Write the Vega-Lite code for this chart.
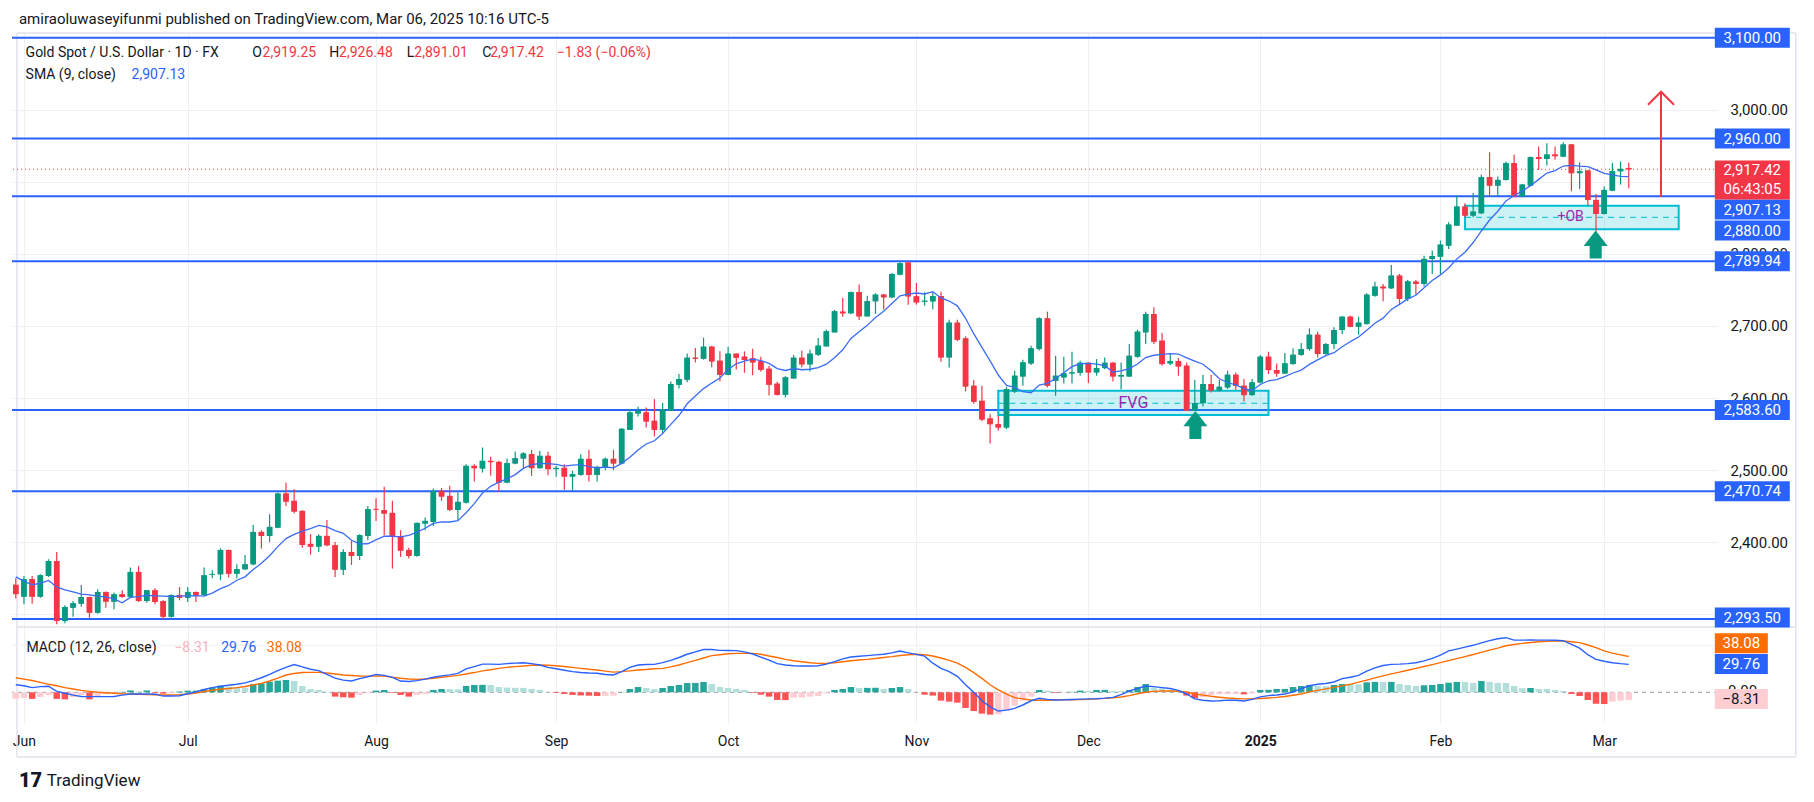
{
"$schema":"https://vega.github.io/schema/vega-lite/v6.json",
"width":1706,"height":690,
"autosize":{"type":"none"},
"padding":{"left":12,"top":33,"right":96,"bottom":79},
"background":"#ffffff",
"config":{"view":{"stroke":null},"font":"Roboto","axis":{"labelFont":"Roboto"}},
"datasets":{
"candles":[
{"i":-1,"o":2341,"h":2350,"l":2322,"c":2328,"s":2352},
{"i":0,"o":2324.5,"h":2353.2,"l":2313.8,"c":2348.6,"s":2346},
{"i":1,"o":2348.6,"h":2353.2,"l":2314.8,"c":2324.5,"s":2341},
{"i":2,"o":2324.5,"h":2355.5,"l":2323,"c":2354.1,"s":2343},
{"i":3,"o":2353.2,"h":2376.4,"l":2351.8,"c":2374,"s":2347},
{"i":4,"o":2374,"h":2386.5,"l":2286.1,"c":2290.7,"s":2338},
{"i":5,"o":2290.7,"h":2312.5,"l":2287.5,"c":2310.1,"s":2334},
{"i":6,"o":2309.2,"h":2318.5,"l":2296.7,"c":2315.2,"s":2331},
{"i":7,"o":2314.8,"h":2340.7,"l":2310.6,"c":2324,"s":2328},
{"i":8,"o":2324,"h":2324.5,"l":2295.3,"c":2302.3,"s":2327.1},
{"i":9,"o":2302.3,"h":2334.7,"l":2300.9,"c":2331,"s":2325.1},
{"i":10,"o":2331,"h":2331.5,"l":2309.2,"c":2317.6,"s":2324.3},
{"i":11,"o":2317.6,"h":2330.1,"l":2306.9,"c":2327.7,"s":2321.4},
{"i":12,"o":2327.7,"h":2333.3,"l":2323.1,"c":2324,"s":2315.9},
{"i":13,"o":2324,"h":2364.8,"l":2323.1,"c":2358.8,"s":2323.4},
{"i":14,"o":2358.8,"h":2367.1,"l":2317.1,"c":2318.5,"s":2324.4},
{"i":15,"o":2318.5,"h":2333.8,"l":2316.2,"c":2333.3,"s":2326.4},
{"i":16,"o":2333.3,"h":2336.1,"l":2313.8,"c":2317.1,"s":2325.7},
{"i":17,"o":2318.5,"h":2319.4,"l":2293,"c":2296.7,"s":2325.1},
{"i":18,"o":2296.7,"h":2327.7,"l":2295.3,"c":2326.8,"s":2324.7},
{"i":19,"o":2326.8,"h":2337.9,"l":2319.4,"c":2323.1,"s":2325.2},
{"i":20,"o":2323.1,"h":2337.9,"l":2317.1,"c":2331,"s":2325.6},
{"i":21,"o":2331,"h":2331.5,"l":2317.1,"c":2326.8,"s":2325.9},
{"i":22,"o":2326.8,"h":2364.8,"l":2325.4,"c":2354.1,"s":2325.3},
{"i":23,"o":2355,"h":2361.1,"l":2350,"c":2356,"s":2329.4},
{"i":24,"o":2355.5,"h":2391.6,"l":2347.2,"c":2389.3,"s":2335.7},
{"i":25,"o":2389.3,"h":2390,"l":2350.9,"c":2356.4,"s":2340},
{"i":26,"o":2356.4,"h":2369.4,"l":2350,"c":2362.5,"s":2347.3},
{"i":27,"o":2362.5,"h":2382.4,"l":2361.5,"c":2369.4,"s":2352},
{"i":28,"o":2369.4,"h":2424,"l":2368,"c":2414.3,"s":2362.1},
{"i":29,"o":2414.3,"h":2416.6,"l":2391.2,"c":2408.8,"s":2370.8},
{"i":30,"o":2408.8,"h":2438.8,"l":2400.4,"c":2421.3,"s":2381.2},
{"i":31,"o":2420.3,"h":2468.9,"l":2419.4,"c":2467.5,"s":2393.9},
{"i":32,"o":2467.5,"h":2482.4,"l":2450.4,"c":2456.4,"s":2405},
{"i":33,"o":2457.4,"h":2473.6,"l":2439.8,"c":2442.6,"s":2411},
{"i":34,"o":2443.5,"h":2444.4,"l":2392.5,"c":2396.3,"s":2415.4},
{"i":35,"o":2397.7,"h":2411.1,"l":2382.8,"c":2394,"s":2418.9},
{"i":36,"o":2394,"h":2411.1,"l":2386.5,"c":2408.8,"s":2423.3},
{"i":37,"o":2408.8,"h":2431,"l":2394.4,"c":2395.8,"s":2421.3},
{"i":38,"o":2395.8,"h":2400.4,"l":2351.8,"c":2362,"s":2416.1},
{"i":39,"o":2362,"h":2390.2,"l":2354.6,"c":2386.5,"s":2412.3},
{"i":40,"o":2386.5,"h":2401.8,"l":2368.5,"c":2381,"s":2402.7},
{"i":41,"o":2381,"h":2411.1,"l":2375.4,"c":2409.7,"s":2397.6},
{"i":42,"o":2408.8,"h":2450.4,"l":2402.7,"c":2445.8,"s":2397.9},
{"i":43,"o":2446.3,"h":2461.1,"l":2429.6,"c":2445.3,"s":2403.3},
{"i":44,"o":2444.4,"h":2476.8,"l":2409.7,"c":2439.8,"s":2408.4},
{"i":45,"o":2440.7,"h":2457.4,"l":2363.4,"c":2407.8,"s":2408.3},
{"i":46,"o":2408.3,"h":2416.6,"l":2379.6,"c":2388.4,"s":2407.4},
{"i":47,"o":2389.3,"h":2392.5,"l":2377.3,"c":2381,"s":2409.6},
{"i":48,"o":2381,"h":2427.5,"l":2380,"c":2426.8,"s":2414},
{"i":49,"o":2425.9,"h":2434.2,"l":2416.6,"c":2429.6,"s":2419.4},
{"i":50,"o":2428.2,"h":2474.5,"l":2422.6,"c":2471.3,"s":2426.2},
{"i":51,"o":2471.3,"h":2475.4,"l":2457.4,"c":2463.4,"s":2428.1},
{"i":52,"o":2464.3,"h":2478.2,"l":2443.5,"c":2444.9,"s":2428.1},
{"i":53,"o":2444.9,"h":2468.9,"l":2431,"c":2456,"s":2429.9},
{"i":54,"o":2455,"h":2508.3,"l":2453.7,"c":2506,"s":2440.8},
{"i":55,"o":2506,"h":2508.3,"l":2484.2,"c":2502.7,"s":2453.6},
{"i":56,"o":2502.3,"h":2531.4,"l":2496.7,"c":2512.9,"s":2468.2},
{"i":57,"o":2512.9,"h":2518.5,"l":2492.1,"c":2511.1,"s":2477.6},
{"i":58,"o":2511.5,"h":2512.9,"l":2470.3,"c":2482.8,"s":2483.4},
{"i":59,"o":2482.9,"h":2516.2,"l":2481.9,"c":2509.7,"s":2487.8},
{"i":60,"o":2509.3,"h":2525.9,"l":2508.3,"c":2516.7,"s":2493.8},
{"i":61,"o":2516.2,"h":2525,"l":2502.8,"c":2523.1,"s":2502.4},
{"i":62,"o":2522.2,"h":2528.2,"l":2492.1,"c":2502.8,"s":2507.7},
{"i":63,"o":2502.8,"h":2526.8,"l":2501.8,"c":2519.9,"s":2509.2},
{"i":64,"o":2519.9,"h":2525.5,"l":2493,"c":2501.4,"s":2509},
{"i":65,"o":2501.4,"h":2506,"l":2490.7,"c":2503.2,"s":2507.9},
{"i":66,"o":2503.2,"h":2508.3,"l":2472.7,"c":2491.2,"s":2505.7},
{"i":67,"o":2491.2,"h":2499.1,"l":2471.3,"c":2494.4,"s":2506.9},
{"i":68,"o":2493.5,"h":2522.2,"l":2492.1,"c":2515.7,"s":2507.6},
{"i":69,"o":2515.7,"h":2528.2,"l":2484.3,"c":2493.5,"s":2505},
{"i":70,"o":2493.5,"h":2506,"l":2484.3,"c":2504.6,"s":2503},
{"i":71,"o":2503.7,"h":2517.6,"l":2500,"c":2515.7,"s":2504.4},
{"i":72,"o":2515.7,"h":2528.2,"l":2500,"c":2509.3,"s":2503.2},
{"i":73,"o":2509.3,"h":2558.3,"l":2508.3,"c":2557.4,"s":2509.4},
{"i":74,"o":2556,"h":2584.7,"l":2556,"c":2580.1,"s":2518},
{"i":75,"o":2578.7,"h":2588,"l":2574.5,"c":2582.4,"s":2528.1},
{"i":76,"o":2580.1,"h":2587,"l":2559.3,"c":2567.6,"s":2536.3},
{"i":77,"o":2568.5,"h":2598.6,"l":2546.8,"c":2556,"s":2540.8},
{"i":78,"o":2556,"h":2593,"l":2551.4,"c":2584.7,"s":2550.9},
{"i":79,"o":2582.4,"h":2623.1,"l":2582.4,"c":2619.4,"s":2563.6},
{"i":80,"o":2618.5,"h":2633.3,"l":2613.4,"c":2626.4,"s":2575.8},
{"i":81,"o":2625.5,"h":2662,"l":2621.8,"c":2656,"s":2592.1},
{"i":82,"o":2656,"h":2669.4,"l":2649.5,"c":2654.6,"s":2603},
{"i":83,"o":2654.6,"h":2683.8,"l":2653.2,"c":2671.3,"s":2613.1},
{"i":84,"o":2671.3,"h":2672.7,"l":2642.6,"c":2650.9,"s":2620.8},
{"i":85,"o":2651.8,"h":2664.8,"l":2623.1,"c":2632.4,"s":2627.9},
{"i":86,"o":2632.4,"h":2671.3,"l":2631.5,"c":2661.6,"s":2639.7},
{"i":87,"o":2661.6,"h":2662,"l":2639.8,"c":2656,"s":2647.6},
{"i":88,"o":2657.4,"h":2664.8,"l":2635.2,"c":2652.8,"s":2651.3},
{"i":89,"o":2655.1,"h":2668.5,"l":2631.5,"c":2649.5,"s":2654},
{"i":90,"o":2650.9,"h":2657.4,"l":2636.6,"c":2639.3,"s":2652.1},
{"i":91,"o":2640.7,"h":2644.4,"l":2603.7,"c":2618.5,"s":2648.1},
{"i":92,"o":2619.9,"h":2622.7,"l":2603.7,"c":2604.6,"s":2640.8},
{"i":93,"o":2604.6,"h":2630.5,"l":2600.9,"c":2628.7,"s":2638.3},
{"i":94,"o":2627.3,"h":2659.7,"l":2627.3,"c":2656,"s":2641},
{"i":95,"o":2656,"h":2665.7,"l":2642.6,"c":2646.8,"s":2639.3},
{"i":96,"o":2646.8,"h":2667.1,"l":2637,"c":2661.6,"s":2640},
{"i":97,"o":2660.2,"h":2683.3,"l":2658.3,"c":2672.7,"s":2642.2},
{"i":98,"o":2671.8,"h":2694.9,"l":2671.8,"c":2692.6,"s":2647},
{"i":99,"o":2691.2,"h":2722.2,"l":2691.2,"c":2720.4,"s":2656},
{"i":100,"o":2719.9,"h":2738.9,"l":2713,"c":2717.6,"s":2667},
{"i":101,"o":2717.6,"h":2747.7,"l":2716.7,"c":2747.2,"s":2682.8},
{"i":102,"o":2747.2,"h":2757.4,"l":2708.3,"c":2713.4,"s":2692.1},
{"i":103,"o":2713.4,"h":2742.1,"l":2713.4,"c":2734.7,"s":2700.9},
{"i":104,"o":2734.3,"h":2745.4,"l":2716.7,"c":2743.5,"s":2711.7},
{"i":105,"o":2743.5,"h":2744.4,"l":2722.7,"c":2739.8,"s":2720.3},
{"i":106,"o":2739.8,"h":2773.6,"l":2738.4,"c":2772.2,"s":2731.3},
{"i":107,"o":2771.3,"h":2788.4,"l":2770.4,"c":2787,"s":2741.8},
{"i":108,"o":2788,"h":2789.3,"l":2729.6,"c":2741.1,"s":2744.1},
{"i":109,"o":2741.1,"h":2759.7,"l":2729.6,"c":2732.8,"s":2745.8},
{"i":110,"o":2733.7,"h":2746.8,"l":2728.2,"c":2735.1,"s":2744.4},
{"i":111,"o":2734.2,"h":2746.7,"l":2723.1,"c":2741.6,"s":2747.7},
{"i":112,"o":2741.6,"h":2747.6,"l":2650.4,"c":2656.4,"s":2738.9},
{"i":113,"o":2656.4,"h":2708.7,"l":2642.5,"c":2704.6,"s":2734.6},
{"i":114,"o":2704.6,"h":2708.7,"l":2678.7,"c":2681,"s":2728},
{"i":115,"o":2682.8,"h":2685.6,"l":2609.2,"c":2616.1,"s":2710.7},
{"i":116,"o":2617.1,"h":2625,"l":2592,"c":2594.9,"s":2689.3},
{"i":117,"o":2596.2,"h":2617.1,"l":2568,"c":2570.3,"s":2670.3},
{"i":118,"o":2571.7,"h":2577.7,"l":2537,"c":2563.8,"s":2651.6},
{"i":119,"o":2563.8,"h":2575.4,"l":2555,"c":2559.2,"s":2632},
{"i":120,"o":2559.2,"h":2615.7,"l":2557,"c":2612.5,"s":2617.7},
{"i":121,"o":2609.2,"h":2637.9,"l":2607,"c":2631,"s":2614.9},
{"i":122,"o":2630,"h":2653.2,"l":2617.1,"c":2649.5,"s":2608.8},
{"i":123,"o":2648.1,"h":2672.6,"l":2646,"c":2669,"s":2607.4},
{"i":124,"o":2668,"h":2712,"l":2666,"c":2710.6,"s":2618},
{"i":125,"o":2710.6,"h":2719.9,"l":2614.8,"c":2617.1,"s":2620.4},
{"i":126,"o":2624,"h":2658.8,"l":2603.2,"c":2631,"s":2627.2},
{"i":127,"o":2628.7,"h":2657.4,"l":2620.3,"c":2634.2,"s":2635},
{"i":128,"o":2634.2,"h":2664.3,"l":2620.3,"c":2635.6,"s":2643.6},
{"i":129,"o":2635.1,"h":2651.8,"l":2631,"c":2649,"s":2647.6},
{"i":130,"o":2649,"h":2649.5,"l":2620.8,"c":2635.6,"s":2648.1},
{"i":131,"o":2635.6,"h":2654.1,"l":2631,"c":2641.6,"s":2647.2},
{"i":132,"o":2641.6,"h":2656.4,"l":2640,"c":2649,"s":2645},
{"i":133,"o":2649,"h":2650,"l":2623.1,"c":2630,"s":2636},
{"i":134,"o":2630,"h":2649.5,"l":2612,"c":2631.9,"s":2637.7},
{"i":135,"o":2630,"h":2675,"l":2629.6,"c":2658.7,"s":2640.8},
{"i":136,"o":2657.4,"h":2694.9,"l":2656,"c":2692.1,"s":2647.2},
{"i":137,"o":2691.2,"h":2719.9,"l":2675,"c":2716.6,"s":2656.2},
{"i":138,"o":2716.6,"h":2725.9,"l":2675,"c":2678.2,"s":2659.4},
{"i":139,"o":2679.6,"h":2690.2,"l":2644.9,"c":2647.2,"s":2660.7},
{"i":140,"o":2648.1,"h":2662.5,"l":2645.8,"c":2651.3,"s":2661.7},
{"i":141,"o":2651.3,"h":2655.5,"l":2631,"c":2643.9,"s":2661.1},
{"i":142,"o":2644.9,"h":2649.5,"l":2582,"c":2582.4,"s":2655.8},
{"i":143,"o":2582.4,"h":2625,"l":2582,"c":2593,"s":2651.4},
{"i":144,"o":2593,"h":2632.4,"l":2588.4,"c":2619.4,"s":2647},
{"i":145,"o":2619.4,"h":2632.4,"l":2607.8,"c":2610.1,"s":2637.9},
{"i":146,"o":2610.1,"h":2625,"l":2609.2,"c":2615.7,"s":2626.7},
{"i":147,"o":2614.8,"h":2637.9,"l":2612.5,"c":2632.4,"s":2621.6},
{"i":148,"o":2632.4,"h":2635.6,"l":2611.1,"c":2617.1,"s":2618.2},
{"i":149,"o":2617.1,"h":2626.3,"l":2595.3,"c":2604.1,"s":2613},
{"i":150,"o":2604.1,"h":2626.3,"l":2603.2,"c":2621.7,"s":2610.6},
{"i":151,"o":2621.7,"h":2659.7,"l":2620.3,"c":2657.4,"s":2618.9},
{"i":152,"o":2657.4,"h":2664.3,"l":2633.3,"c":2638.8,"s":2624},
{"i":153,"o":2638.8,"h":2648.1,"l":2629.6,"c":2634.2,"s":2625.7},
{"i":154,"o":2634.2,"h":2662.5,"l":2633.3,"c":2648.1,"s":2629.9},
{"i":155,"o":2647.2,"h":2669,"l":2646.2,"c":2660.1,"s":2634.8},
{"i":156,"o":2660.1,"h":2676.3,"l":2658.7,"c":2668,"s":2638.8},
{"i":157,"o":2668,"h":2696.7,"l":2665.7,"c":2687.9,"s":2646.7},
{"i":158,"o":2687.9,"h":2692.1,"l":2656.4,"c":2661.1,"s":2653},
{"i":159,"o":2661.1,"h":2676.3,"l":2660.1,"c":2675,"s":2658.9},
{"i":160,"o":2675,"h":2698.1,"l":2668,"c":2694.4,"s":2663},
{"i":161,"o":2694.4,"h":2713.5,"l":2688.8,"c":2712.9,"s":2671.2},
{"i":162,"o":2712.9,"h":2714.3,"l":2698.1,"c":2699,"s":2678.4},
{"i":163,"o":2699,"h":2712.9,"l":2687.9,"c":2704.6,"s":2684.8},
{"i":164,"o":2702.7,"h":2745.3,"l":2701.8,"c":2743.5,"s":2694.1},
{"i":165,"o":2742.1,"h":2761.5,"l":2740.7,"c":2754.6,"s":2703.8},
{"i":166,"o":2754.6,"h":2758.3,"l":2734.2,"c":2752.3,"s":2710.9},
{"i":167,"o":2752.3,"h":2784.7,"l":2751.3,"c":2769.9,"s":2723},
{"i":168,"o":2769.9,"h":2772.2,"l":2730.6,"c":2737.5,"s":2730},
{"i":169,"o":2737.5,"h":2763.9,"l":2734.2,"c":2761.9,"s":2737.6},
{"i":170,"o":2761.5,"h":2763.9,"l":2743.5,"c":2758.3,"s":2742.6},
{"i":171,"o":2758.3,"h":2797.6,"l":2755,"c":2793.1,"s":2753},
{"i":172,"o":2793,"h":2804.6,"l":2772.1,"c":2797.1,"s":2763.2},
{"i":173,"o":2796.2,"h":2818.4,"l":2772.1,"c":2812.9,"s":2770.9},
{"i":174,"o":2811.5,"h":2843.9,"l":2806.9,"c":2840.7,"s":2780.4},
{"i":175,"o":2839.3,"h":2880.9,"l":2839,"c":2865.7,"s":2793.1},
{"i":176,"o":2865.7,"h":2870.3,"l":2850.9,"c":2853.2,"s":2802.3},
{"i":177,"o":2853.2,"h":2884.6,"l":2850.9,"c":2858.7,"s":2815.8},
{"i":178,"o":2856.4,"h":2910.1,"l":2855.5,"c":2906.4,"s":2831.8},
{"i":179,"o":2906.4,"h":2941.1,"l":2879.6,"c":2894.8,"s":2847},
{"i":180,"o":2894.8,"h":2907.3,"l":2879.6,"c":2902.7,"s":2859.2},
{"i":181,"o":2902.7,"h":2928.2,"l":2901.8,"c":2925.9,"s":2873.6},
{"i":182,"o":2925.9,"h":2937.9,"l":2878.6,"c":2880,"s":2881},
{"i":183,"o":2880,"h":2897.1,"l":2878.6,"c":2896.2,"s":2887.1},
{"i":184,"o":2894.8,"h":2935.1,"l":2893.9,"c":2934.2,"s":2894.7},
{"i":185,"o":2934.2,"h":2949,"l":2916.6,"c":2931.9,"s":2903.4},
{"i":186,"o":2931.9,"h":2953.6,"l":2922.6,"c":2937.9,"s":2912.2},
{"i":187,"o":2937.9,"h":2949,"l":2930.5,"c":2935.6,"s":2915.6},
{"i":188,"o":2935.1,"h":2955,"l":2934.2,"c":2951.8,"s":2921.9},
{"i":189,"o":2951.8,"h":2952.5,"l":2886.9,"c":2912,"s":2922.9},
{"i":190,"o":2912,"h":2927.2,"l":2890.2,"c":2914.7,"s":2921.7},
{"i":191,"o":2915.7,"h":2916.6,"l":2867.1,"c":2874.9,"s":2921.1},
{"i":192,"o":2874.9,"h":2883.3,"l":2831.4,"c":2855.5,"s":2916.7},
{"i":193,"o":2855.5,"h":2893.4,"l":2854.6,"c":2888.8,"s":2911.7},
{"i":194,"o":2887.9,"h":2926.3,"l":2886.9,"c":2914.7,"s":2909.8},
{"i":195,"o":2914.7,"h":2928.2,"l":2896.2,"c":2918,"s":2907.6},
{"i":196,"o":2919.25,"h":2926.48,"l":2891.01,"c":2917.42,"s":2907.13}
],
"macd":[
{"i":-1,"m":8,"g":15.5,"h":-7,"k":"nf"},
{"i":0,"m":7,"g":14,"h":-6,"k":"nf"},
{"i":1,"m":5,"g":12.5,"h":-7,"k":"ng"},
{"i":2,"m":6,"g":10.5,"h":-5,"k":"nf"},
{"i":3,"m":6.5,"g":8.5,"h":-3,"k":"nf"},
{"i":4,"m":1,"g":7,"h":-7,"k":"ng"},
{"i":5,"m":-1,"g":5,"h":-7.5,"k":"ng"},
{"i":6,"m":-3,"g":3.5,"h":-5,"k":"nf"},
{"i":7,"m":-4.5,"g":2,"h":-3,"k":"nf"},
{"i":8,"m":-4.6,"g":1,"h":-7.5,"k":"ng"},
{"i":9,"m":-4.6,"g":0,"h":-4,"k":"nf"},
{"i":10,"m":-4.6,"g":-0.5,"h":-2,"k":"nf"},
{"i":11,"m":-4.4,"g":-1,"h":-1,"k":"nf"},
{"i":12,"m":-3,"g":-1.5,"h":0.5,"k":"pg"},
{"i":13,"m":-1.8,"g":-1.8,"h":2,"k":"pg"},
{"i":14,"m":-1.8,"g":-2,"h":1,"k":"pf"},
{"i":15,"m":-1.8,"g":-2.3,"h":2,"k":"pg"},
{"i":16,"m":-2,"g":-2.6,"h":-1,"k":"ng"},
{"i":17,"m":-4,"g":-2.9,"h":-1.5,"k":"ng"},
{"i":18,"m":-4,"g":-2.9,"h":-1,"k":"nf"},
{"i":19,"m":-3.6,"g":-2.5,"h":0.8,"k":"pg"},
{"i":20,"m":-1.5,"g":-1.8,"h":1.7,"k":"pg"},
{"i":21,"m":0.5,"g":-0.8,"h":1.8,"k":"pg"},
{"i":22,"m":3,"g":0.8,"h":3.5,"k":"pg"},
{"i":23,"m":5,"g":2.2,"h":4.9,"k":"pg"},
{"i":24,"m":6.5,"g":3.2,"h":7,"k":"pg"},
{"i":25,"m":7.5,"g":4,"h":6,"k":"pf"},
{"i":26,"m":8.5,"g":5,"h":5.3,"k":"pf"},
{"i":27,"m":10,"g":6.2,"h":5,"k":"pf"},
{"i":28,"m":12.5,"g":7.8,"h":8.8,"k":"pg"},
{"i":29,"m":15.5,"g":9.5,"h":9.5,"k":"pg"},
{"i":30,"m":19,"g":12,"h":11.3,"k":"pg"},
{"i":31,"m":23,"g":15,"h":12.4,"k":"pg"},
{"i":32,"m":26.5,"g":18.4,"h":13.1,"k":"pg"},
{"i":33,"m":29.5,"g":20,"h":12,"k":"pf"},
{"i":34,"m":27,"g":21,"h":6.7,"k":"pf"},
{"i":35,"m":24.5,"g":21.2,"h":3.5,"k":"pf"},
{"i":36,"m":23,"g":21.2,"h":2.5,"k":"pf"},
{"i":37,"m":19,"g":20.5,"h":0.7,"k":"pf"},
{"i":38,"m":15,"g":19.5,"h":-4.6,"k":"ng"},
{"i":39,"m":13,"g":18.4,"h":-5.3,"k":"ng"},
{"i":40,"m":12,"g":17.8,"h":-5.7,"k":"ng"},
{"i":41,"m":14.5,"g":17.3,"h":-2.8,"k":"nf"},
{"i":42,"m":16.5,"g":17.2,"h":-1,"k":"nf"},
{"i":43,"m":19,"g":17.3,"h":1.8,"k":"pg"},
{"i":44,"m":18,"g":17.2,"h":2.5,"k":"pg"},
{"i":45,"m":15.9,"g":16,"h":-0.7,"k":"ng"},
{"i":46,"m":12,"g":15,"h":-2.8,"k":"ng"},
{"i":47,"m":11.5,"g":14.2,"h":-4.6,"k":"ng"},
{"i":48,"m":12.4,"g":13.8,"h":-2.8,"k":"nf"},
{"i":49,"m":14,"g":14.2,"h":-1.8,"k":"nf"},
{"i":50,"m":16,"g":15,"h":2.5,"k":"pg"},
{"i":51,"m":17.5,"g":16,"h":3.5,"k":"pg"},
{"i":52,"m":18.5,"g":17,"h":3.3,"k":"pf"},
{"i":53,"m":20.2,"g":18,"h":3.2,"k":"pf"},
{"i":54,"m":25,"g":19.5,"h":6.7,"k":"pg"},
{"i":55,"m":27.3,"g":21,"h":7.8,"k":"pg"},
{"i":56,"m":30,"g":22.8,"h":7.9,"k":"pg"},
{"i":57,"m":30,"g":24,"h":7.8,"k":"pf"},
{"i":58,"m":29.7,"g":25.5,"h":5.6,"k":"pf"},
{"i":59,"m":30.5,"g":26.5,"h":5,"k":"pf"},
{"i":60,"m":31,"g":27.3,"h":4.8,"k":"pf"},
{"i":61,"m":31.5,"g":28,"h":4.7,"k":"pf"},
{"i":62,"m":30.5,"g":28.8,"h":3.5,"k":"pf"},
{"i":63,"m":29,"g":29,"h":2.5,"k":"pf"},
{"i":64,"m":26.5,"g":28.8,"h":0.3,"k":"pf"},
{"i":65,"m":25,"g":28.3,"h":-0.7,"k":"ng"},
{"i":66,"m":23.5,"g":27.5,"h":-1.8,"k":"ng"},
{"i":67,"m":22,"g":26.5,"h":-2.8,"k":"ng"},
{"i":68,"m":21,"g":25.5,"h":-3.3,"k":"ng"},
{"i":69,"m":20.5,"g":24.5,"h":-3.6,"k":"ng"},
{"i":70,"m":20.2,"g":23.7,"h":-3.9,"k":"ng"},
{"i":71,"m":19,"g":22.5,"h":-3.8,"k":"nf"},
{"i":72,"m":18.4,"g":21.5,"h":-3.5,"k":"nf"},
{"i":73,"m":22,"g":22,"h":0.3,"k":"pg"},
{"i":74,"m":26.5,"g":22.8,"h":3.5,"k":"pg"},
{"i":75,"m":29,"g":23.7,"h":5.6,"k":"pg"},
{"i":76,"m":29.5,"g":24.3,"h":4.6,"k":"pf"},
{"i":77,"m":29.7,"g":25,"h":3.5,"k":"pf"},
{"i":78,"m":31.5,"g":25.5,"h":4.6,"k":"pg"},
{"i":79,"m":34,"g":27,"h":6.7,"k":"pg"},
{"i":80,"m":37,"g":29,"h":7.8,"k":"pg"},
{"i":81,"m":40.5,"g":31.5,"h":9.9,"k":"pg"},
{"i":82,"m":43,"g":34,"h":10,"k":"pg"},
{"i":83,"m":45.5,"g":36.5,"h":11,"k":"pg"},
{"i":84,"m":45.5,"g":39,"h":8.8,"k":"pf"},
{"i":85,"m":44.6,"g":40,"h":5.6,"k":"pf"},
{"i":86,"m":44.5,"g":41,"h":4.6,"k":"pf"},
{"i":87,"m":44.3,"g":41.4,"h":3.5,"k":"pf"},
{"i":88,"m":43,"g":41.4,"h":2.5,"k":"pf"},
{"i":89,"m":40.7,"g":41.4,"h":-0.7,"k":"ng"},
{"i":90,"m":37.5,"g":40.5,"h":-2.5,"k":"ng"},
{"i":91,"m":34.3,"g":38.6,"h":-4.6,"k":"ng"},
{"i":92,"m":30.5,"g":37,"h":-8.2,"k":"ng"},
{"i":93,"m":29,"g":35,"h":-8.3,"k":"ng"},
{"i":94,"m":28.2,"g":33.6,"h":-5.7,"k":"nf"},
{"i":95,"m":28,"g":32.5,"h":-5.6,"k":"nf"},
{"i":96,"m":28,"g":31.5,"h":-4.6,"k":"nf"},
{"i":97,"m":28.3,"g":30.8,"h":-3.9,"k":"nf"},
{"i":98,"m":30,"g":30.8,"h":-1.1,"k":"nf"},
{"i":99,"m":32.6,"g":31.5,"h":2.5,"k":"pg"},
{"i":100,"m":35.5,"g":32.5,"h":3.5,"k":"pg"},
{"i":101,"m":37.5,"g":33.5,"h":5.6,"k":"pg"},
{"i":102,"m":38.3,"g":34.3,"h":4.6,"k":"pf"},
{"i":103,"m":39,"g":35,"h":4.7,"k":"pg"},
{"i":104,"m":39.8,"g":36,"h":4.8,"k":"pg"},
{"i":105,"m":40.5,"g":37,"h":3.5,"k":"pf"},
{"i":106,"m":42,"g":38,"h":4.6,"k":"pg"},
{"i":107,"m":43.9,"g":39.2,"h":5.6,"k":"pg"},
{"i":108,"m":42,"g":40,"h":3.5,"k":"pf"},
{"i":109,"m":40.4,"g":40.4,"h":0.2,"k":"pf"},
{"i":110,"m":38.5,"g":40,"h":-2.5,"k":"ng"},
{"i":111,"m":31,"g":38.6,"h":-3.5,"k":"ng"},
{"i":112,"m":25.5,"g":36.5,"h":-8.9,"k":"ng"},
{"i":113,"m":22,"g":34,"h":-9.9,"k":"ng"},
{"i":114,"m":17,"g":31,"h":-11,"k":"ng"},
{"i":115,"m":8,"g":26.5,"h":-16.7,"k":"ng"},
{"i":116,"m":0,"g":21,"h":-19.9,"k":"ng"},
{"i":117,"m":-9,"g":14.8,"h":-22.7,"k":"ng"},
{"i":118,"m":-15.5,"g":8,"h":-23.8,"k":"ng"},
{"i":119,"m":-19.9,"g":2.5,"h":-23.5,"k":"nf"},
{"i":120,"m":-19,"g":-2,"h":-19.6,"k":"nf"},
{"i":121,"m":-17.1,"g":-5.7,"h":-14.3,"k":"nf"},
{"i":122,"m":-13.5,"g":-7,"h":-8.9,"k":"nf"},
{"i":123,"m":-9,"g":-8.2,"h":-4.6,"k":"nf"},
{"i":124,"m":-6.4,"g":-8.5,"h":2.5,"k":"pg"},
{"i":125,"m":-7.5,"g":-8.4,"h":1.8,"k":"pf"},
{"i":126,"m":-8.2,"g":-8.2,"h":-0.7,"k":"ng"},
{"i":127,"m":-8,"g":-8,"h":-0.3,"k":"nf"},
{"i":128,"m":-7.6,"g":-7.9,"h":0.5,"k":"pg"},
{"i":129,"m":-7.3,"g":-7.8,"h":1.8,"k":"pg"},
{"i":130,"m":-7,"g":-7.5,"h":1.6,"k":"pf"},
{"i":131,"m":-6.8,"g":-7,"h":2.5,"k":"pg"},
{"i":132,"m":-6.2,"g":-6.5,"h":2.6,"k":"pg"},
{"i":133,"m":-5.4,"g":-5.8,"h":1.4,"k":"pf"},
{"i":134,"m":-2.5,"g":-5,"h":1.2,"k":"pf"},
{"i":135,"m":1.5,"g":-3.5,"h":2.5,"k":"pg"},
{"i":136,"m":4.2,"g":-1.5,"h":5.6,"k":"pg"},
{"i":137,"m":6.7,"g":0,"h":8.8,"k":"pg"},
{"i":138,"m":6,"g":1,"h":5,"k":"pf"},
{"i":139,"m":5,"g":1.4,"h":4.3,"k":"pf"},
{"i":140,"m":4,"g":1.4,"h":2.5,"k":"pf"},
{"i":141,"m":2,"g":1.1,"h":1.4,"k":"pf"},
{"i":142,"m":-1.8,"g":0.5,"h":-3.5,"k":"ng"},
{"i":143,"m":-7,"g":-1.8,"h":-6.4,"k":"ng"},
{"i":144,"m":-8.5,"g":-3,"h":-5.3,"k":"nf"},
{"i":145,"m":-9.3,"g":-4.2,"h":-2.8,"k":"nf"},
{"i":146,"m":-9,"g":-5.2,"h":-2,"k":"nf"},
{"i":147,"m":-8.3,"g":-6,"h":-2,"k":"nf"},
{"i":148,"m":-8.5,"g":-6.6,"h":-1.8,"k":"nf"},
{"i":149,"m":-9.3,"g":-7,"h":-2.2,"k":"ng"},
{"i":150,"m":-7.5,"g":-7,"h":-1,"k":"nf"},
{"i":151,"m":-4.8,"g":-6.6,"h":2.5,"k":"pg"},
{"i":152,"m":-3.5,"g":-6,"h":2.6,"k":"pg"},
{"i":153,"m":-2.8,"g":-5.4,"h":3.5,"k":"pg"},
{"i":154,"m":-1.8,"g":-4.5,"h":3.6,"k":"pg"},
{"i":155,"m":0.5,"g":-3.2,"h":5.6,"k":"pg"},
{"i":156,"m":4,"g":-1.8,"h":6.7,"k":"pg"},
{"i":157,"m":7,"g":0.4,"h":7.8,"k":"pg"},
{"i":158,"m":8.5,"g":2,"h":6.7,"k":"pf"},
{"i":159,"m":9.3,"g":3.6,"h":6.5,"k":"pf"},
{"i":160,"m":11,"g":5.2,"h":7.8,"k":"pg"},
{"i":161,"m":14.5,"g":6.8,"h":8.8,"k":"pg"},
{"i":162,"m":16,"g":8.5,"h":8.8,"k":"pf"},
{"i":163,"m":18,"g":10.8,"h":8.5,"k":"pf"},
{"i":164,"m":22.5,"g":13,"h":10.6,"k":"pg"},
{"i":165,"m":26,"g":15.3,"h":11,"k":"pg"},
{"i":166,"m":28.5,"g":17.5,"h":10.9,"k":"pf"},
{"i":167,"m":29.7,"g":19.6,"h":11.1,"k":"pg"},
{"i":168,"m":30,"g":21.5,"h":8.8,"k":"pf"},
{"i":169,"m":30.5,"g":23.5,"h":7.8,"k":"pf"},
{"i":170,"m":31.5,"g":25.5,"h":6.7,"k":"pf"},
{"i":171,"m":33.5,"g":27.5,"h":7.5,"k":"pg"},
{"i":172,"m":36,"g":29.5,"h":7.8,"k":"pg"},
{"i":173,"m":39.5,"g":31.5,"h":8.8,"k":"pg"},
{"i":174,"m":44,"g":33.7,"h":10.2,"k":"pg"},
{"i":175,"m":46,"g":35.8,"h":11,"k":"pg"},
{"i":176,"m":48,"g":38,"h":10.9,"k":"pf"},
{"i":177,"m":50,"g":40.2,"h":10,"k":"pf"},
{"i":178,"m":52.5,"g":42.5,"h":12,"k":"pg"},
{"i":179,"m":55,"g":44.8,"h":11,"k":"pf"},
{"i":180,"m":57,"g":47,"h":10,"k":"pf"},
{"i":181,"m":58.1,"g":49.5,"h":9.9,"k":"pf"},
{"i":182,"m":55.5,"g":50.8,"h":6.7,"k":"pf"},
{"i":183,"m":55.5,"g":52,"h":4.3,"k":"pf"},
{"i":184,"m":55.6,"g":53,"h":4.6,"k":"pg"},
{"i":185,"m":55.5,"g":53.8,"h":3.6,"k":"pf"},
{"i":186,"m":55.5,"g":54.2,"h":3.5,"k":"pf"},
{"i":187,"m":55.3,"g":54.5,"h":2.5,"k":"pf"},
{"i":188,"m":54.9,"g":54.6,"h":1.4,"k":"pf"},
{"i":189,"m":51,"g":53.8,"h":-1.8,"k":"ng"},
{"i":190,"m":47,"g":52.8,"h":-3.9,"k":"ng"},
{"i":191,"m":40,"g":50.3,"h":-8.2,"k":"ng"},
{"i":192,"m":35,"g":47.5,"h":-12.2,"k":"ng"},
{"i":193,"m":33,"g":44,"h":-12.5,"k":"ng"},
{"i":194,"m":31.5,"g":41.7,"h":-9.9,"k":"nf"},
{"i":195,"m":30.5,"g":39.8,"h":-8.9,"k":"nf"},
{"i":196,"m":29.76,"g":38.08,"h":-8.31,"k":"nf"}
],
"lines":[{"v":3100},{"v":2960},{"v":2880},{"v":2789.94},{"v":2583.6},{"v":2470.74},{"v":2293.5}],
"levels":[{"v":3100,"t":"3,100.00"},{"v":2960,"t":"2,960.00"},{"v":2789.94,"t":"2,789.94"},{"v":2583.6,"t":"2,583.60"},{"v":2470.74,"t":"2,470.74"},{"v":2295.5,"t":"2,293.50"}]
},
"resolve":{"scale":{"y":"independent"}},
"layer":[
{"data":{"values":[{}]},"layer":[
{"data":{"name":"candles"},"mark":{"type":"bar","size":5.5,"clip":true},"encoding":{
"x":{"field":"i","type":"quantitative","scale":{"domain":[-0.85,206.29],"nice":false,"zero":false},
"axis":{"values":[0,20,43,65,86,109,130,151,173,193],"labelExpr":"datum.value == 0 ? 'Jun' : datum.value == 20 ? 'Jul' : datum.value == 43 ? 'Aug' : datum.value == 65 ? 'Sep' : datum.value == 86 ? 'Oct' : datum.value == 109 ? 'Nov' : datum.value == 130 ? 'Dec' : datum.value == 151 ? '2025' : datum.value == 173 ? 'Feb' : 'Mar'","grid":true,"gridColor":"#eef0f3","gridWidth":1,"ticks":false,"tickSize":0,"domain":false,"labelPadding":18,"labelBaseline":"middle","labelFontSize":14,"labelColor":"#131722","labelOverlap":false,"labelFlush":false,"title":null,"labelFontWeight":{"condition":{"test":"datum.value == 151","value":"bold"},"value":"normal"}}},
"y":{"field":"o","type":"quantitative","scale":{"domain":[2149.2,3106.5],"nice":false,"zero":false},
"axis":{"orient":"right","values":[2300,2400,2500,2600,2700,2800,2900,3000],"labelExpr":"datum.value == 2300 || datum.value == 2900 ? '' : format(datum.value, ',.2f')","title":null,"ticks":false,"tickSize":0,"domain":false,"labelPadding":12,"labelAlign":"left","labelBaseline":"middle","labelFontSize":15,"labelColor":"#131722","grid":true,"gridColor":"#eef0f3","labelOverlap":false}},
"y2":{"field":"c"},
"color":{"condition":{"test":"datum.c >= datum.o","value":"#089981"},"value":"#F23645"}}},
{"mark":{"type":"rule","color":"#e0e3eb","strokeWidth":1.5},"encoding":{"x":{"datum":-0.85},"x2":{"datum":216.4},"y":{"datum":3106.5}}},
{"mark":{"type":"rule","color":"#e0e3eb","strokeWidth":1.5},"encoding":{"x":{"datum":-0.85},"x2":{"datum":216.4},"y":{"datum":2102.1}}},
{"mark":{"type":"rule","color":"#e0e3eb","strokeWidth":1.5},"encoding":{"x":{"datum":-0.85},"x2":{"datum":216.4},"y":{"datum":2282.4}}},
{"mark":{"type":"rule","color":"#e0e3eb","strokeWidth":1.5},"encoding":{"x":{"datum":-0.85},"y":{"datum":3106.5},"y2":{"datum":2102.1}}},
{"mark":{"type":"rule","color":"#e0e3eb","strokeWidth":1.5},"encoding":{"x":{"datum":216.4},"y":{"datum":3106.5},"y2":{"datum":2102.1}}},
{"data":{"name":"lines"},"mark":{"type":"rule","color":"#2962FF","strokeWidth":2},"encoding":{"y":{"field":"v","type":"quantitative"}}},
{"mark":{"type":"rule","color":"#F23645","strokeWidth":1,"strokeDash":[1,3]},"encoding":{"y":{"datum":2917.42}}},
{"mark":{"type":"rect","fill":"#00BCD4","fillOpacity":0.2,"stroke":"#00BCD4","strokeWidth":2},"encoding":{"x":{"datum":119.0},"x2":{"datum":152.0},"y":{"datum":2610.3},"y2":{"datum":2576.6}}},
{"mark":{"type":"rule","color":"#00BCD4","strokeWidth":1,"strokeDash":[6,5]},"encoding":{"x":{"datum":119.0},"x2":{"datum":152.0},"y":{"datum":2592.8}}},
{"mark":{"type":"rect","fill":"#00BCD4","fillOpacity":0.2,"stroke":"#00BCD4","strokeWidth":2},"encoding":{"x":{"datum":176.0},"x2":{"datum":202.1},"y":{"datum":2866.9},"y2":{"datum":2834.2}}},
{"mark":{"type":"rule","color":"#00BCD4","strokeWidth":1,"strokeDash":[6,5]},"encoding":{"x":{"datum":176.0},"x2":{"datum":202.1},"y":{"datum":2850.8}}},
{"data":{"name":"candles"},"mark":{"type":"rule","strokeWidth":1.2,"clip":true},"encoding":{"x":{"field":"i","type":"quantitative"},"y":{"field":"l","type":"quantitative"},"y2":{"field":"h"},"color":{"condition":{"test":"datum.c >= datum.o","value":"#089981"},"value":"#F23645"}}},
{"data":{"name":"candles"},"mark":{"type":"bar","size":5.5,"clip":true},"encoding":{"x":{"field":"i","type":"quantitative"},"y":{"field":"o","type":"quantitative"},"y2":{"field":"c"},"color":{"condition":{"test":"datum.c >= datum.o","value":"#089981"},"value":"#F23645"}}},
{"data":{"name":"candles"},"mark":{"type":"line","color":"#3b6cf6","strokeWidth":1.3,"clip":true},"encoding":{"x":{"field":"i","type":"quantitative"},"y":{"field":"s","type":"quantitative"}}},
{"mark":{"type":"text","text":"FVG","fontSize":16,"color":"#9C27B0","align":"center","baseline":"middle"},"encoding":{"x":{"datum":135.5},"y":{"datum":2593.2}}},
{"mark":{"type":"text","text":"+OB","fontSize":14,"color":"#9C27B0","align":"center","baseline":"middle"},"encoding":{"x":{"datum":188.9},"y":{"datum":2851.3}}},
{"mark":{"type":"point","shape":"M0,-1L0.86,0.1L0.43,0.1L0.43,1L-0.43,1L-0.43,0.1L-0.86,0.1Z","filled":true,"color":"#089981","opacity":1,"size":784,"strokeWidth":0},"encoding":{"x":{"datum":191.96},"y":{"datum":2813.1}}},
{"mark":{"type":"point","shape":"M0,-1L0.86,0.1L0.43,0.1L0.43,1L-0.43,1L-0.43,0.1L-0.86,0.1Z","filled":true,"color":"#089981","opacity":1,"size":784,"strokeWidth":0},"encoding":{"x":{"datum":143.07},"y":{"datum":2562.7}}},
{"mark":{"type":"rule","color":"#F23645","strokeWidth":2},"encoding":{"x":{"datum":199.94},"y":{"datum":2879},"y2":{"datum":3025.1}}},
{"mark":{"type":"point","shape":"M-1,1L0,0L1,1","filled":false,"color":"#F23645","strokeWidth":2,"opacity":1,"size":676},"encoding":{"x":{"datum":199.94},"y":{"datum":3025.1}}},
{"mark":{"type":"text","text":"amiraoluwaseyifunmi published on TradingView.com, Mar 06, 2025 10:16 UTC-5","fontSize":15,"color":"#131722","align":"left","baseline":"middle"},"encoding":{"x":{"datum":-0.61},"y":{"datum":3125.9}}},
{"mark":{"type":"text","text":"Gold Spot / U.S. Dollar · 1D · FX","fontSize":14,"color":"#131722","align":"left","baseline":"middle"},"encoding":{"x":{"datum":0.2},"y":{"datum":3078.8}}},
{"mark":{"type":"text","text":"O","fontSize":14,"color":"#131722","align":"left","baseline":"middle"},"encoding":{"x":{"datum":27.89},"y":{"datum":3078.8}}},
{"mark":{"type":"text","text":"2,919.25","fontSize":14,"color":"#F23645","align":"left","baseline":"middle"},"encoding":{"x":{"datum":29.14},"y":{"datum":3078.8}}},
{"mark":{"type":"text","text":"H","fontSize":14,"color":"#131722","align":"left","baseline":"middle"},"encoding":{"x":{"datum":37.28},"y":{"datum":3078.8}}},
{"mark":{"type":"text","text":"2,926.48","fontSize":14,"color":"#F23645","align":"left","baseline":"middle"},"encoding":{"x":{"datum":38.49},"y":{"datum":3078.8}}},
{"mark":{"type":"text","text":"L","fontSize":14,"color":"#131722","align":"left","baseline":"middle"},"encoding":{"x":{"datum":46.75},"y":{"datum":3078.8}}},
{"mark":{"type":"text","text":"2,891.01","fontSize":14,"color":"#F23645","align":"left","baseline":"middle"},"encoding":{"x":{"datum":47.67},"y":{"datum":3078.8}}},
{"mark":{"type":"text","text":"C","fontSize":14,"color":"#131722","align":"left","baseline":"middle"},"encoding":{"x":{"datum":55.97},"y":{"datum":3078.8}}},
{"mark":{"type":"text","text":"2,917.42","fontSize":14,"color":"#F23645","align":"left","baseline":"middle"},"encoding":{"x":{"datum":56.94},"y":{"datum":3078.8}}},
{"mark":{"type":"text","text":"−1.83 (−0.06%)","fontSize":14,"color":"#F23645","align":"left","baseline":"middle"},"encoding":{"x":{"datum":65.08},"y":{"datum":3078.8}}},
{"mark":{"type":"text","text":"SMA (9, close)","fontSize":14,"color":"#131722","align":"left","baseline":"middle"},"encoding":{"x":{"datum":0.2},"y":{"datum":3048.3}}},
{"mark":{"type":"text","text":"2,907.13","fontSize":14,"color":"#2962FF","align":"left","baseline":"middle"},"encoding":{"x":{"datum":13.14},"y":{"datum":3048.3}}},
{"mark":{"type":"text","text":"17","fontSize":20,"fontWeight":900,"color":"#131722","align":"left","baseline":"middle"},"encoding":{"x":{"datum":-0.61},"y":{"datum":2068.8}}},
{"mark":{"type":"text","text":"TradingView","fontSize":17,"color":"#131722","align":"left","baseline":"middle"},"encoding":{"x":{"datum":2.79},"y":{"datum":2068.8}}},
{"data":{"name":"levels"},"mark":{"type":"point","shape":"M-1,-0.267L1,-0.267L1,0.267L-1,0.267Z","filled":true,"color":"#2962FF","opacity":1,"size":5625,"strokeWidth":0},"encoding":{"x":{"datum":211.09},"y":{"field":"v","type":"quantitative"}}},
{"data":{"name":"levels"},"mark":{"type":"text","color":"#ffffff","fontSize":15,"align":"center","baseline":"middle"},"encoding":{"x":{"datum":211.09},"y":{"field":"v","type":"quantitative"},"text":{"field":"t"}}},
{"mark":{"type":"point","shape":"M-1,-0.267L1,-0.267L1,0.267L-1,0.267Z","filled":true,"color":"#2962FF","opacity":1,"size":5625,"strokeWidth":0},"encoding":{"x":{"datum":211.09},"y":{"datum":2861.5}}},
{"mark":{"type":"text","text":"2,907.13","color":"#ffffff","fontSize":15,"align":"center","baseline":"middle"},"encoding":{"x":{"datum":211.09},"y":{"datum":2861.5}}},
{"mark":{"type":"point","shape":"M-1,-0.267L1,-0.267L1,0.267L-1,0.267Z","filled":true,"color":"#2962FF","opacity":1,"size":5625,"strokeWidth":0},"encoding":{"x":{"datum":211.09},"y":{"datum":2832.4}}},
{"mark":{"type":"text","text":"2,880.00","color":"#ffffff","fontSize":15,"align":"center","baseline":"middle"},"encoding":{"x":{"datum":211.09},"y":{"datum":2832.4}}},
{"mark":{"type":"point","shape":"M-1,-0.52L1,-0.52L1,0.52L-1,0.52Z","filled":true,"color":"#F23645","opacity":1,"size":5625,"strokeWidth":0},"encoding":{"x":{"datum":211.09},"y":{"datum":2902.5}}},
{"mark":{"type":"text","text":"2,917.42","color":"#ffffff","fontSize":15,"align":"center","baseline":"middle"},"encoding":{"x":{"datum":211.09},"y":{"datum":2916.5}}},
{"mark":{"type":"text","text":"06:43:05","color":"#ffffff","fontSize":15,"align":"center","baseline":"middle"},"encoding":{"x":{"datum":211.09},"y":{"datum":2889.5}}}
]},
{"data":{"values":[{}]},"layer":[
{"mark":{"type":"rule","color":"#eef0f3","strokeWidth":1},"encoding":{"y":{"datum":50,"axis":null}}},
{"mark":{"type":"rule","color":"#9598a1","strokeWidth":1,"strokeDash":[4,4]},"encoding":{"y":{"datum":0,"axis":null}}},
{"data":{"name":"macd"},"mark":{"type":"bar","size":6.5,"clip":true},"encoding":{"x":{"field":"i","type":"quantitative"},"y":{"field":"h","type":"quantitative","scale":{"domain":[-32.66,701.4],"nice":false,"zero":false},"axis":null},"y2":{"datum":0},"color":{"field":"k","type":"nominal","scale":{"domain":["pg","pf","ng","nf"],"range":["#26A69A","#B2DFDB","#FF5252","#FFCDD2"]},"legend":null}}},
{"data":{"name":"macd"},"mark":{"type":"line","color":"#FF6D00","strokeWidth":1.4,"clip":true},"encoding":{"x":{"field":"i","type":"quantitative"},"y":{"field":"g","type":"quantitative","axis":null}}},
{"data":{"name":"macd"},"mark":{"type":"line","color":"#2962FF","strokeWidth":1.4,"clip":true},"encoding":{"x":{"field":"i","type":"quantitative"},"y":{"field":"m","type":"quantitative","axis":null}}},
{"mark":{"type":"text","text":"0.00","color":"#131722","fontSize":15,"align":"center","baseline":"middle"},"encoding":{"x":{"datum":209.9},"y":{"datum":1.5,"axis":null}}},
{"mark":{"type":"point","shape":"M-1,-0.377L1,-0.377L1,0.377L-1,0.377Z","filled":true,"color":"#FF6D00","opacity":1,"size":2809,"strokeWidth":0},"encoding":{"x":{"datum":209.75},"y":{"datum":52.1,"axis":null}}},
{"mark":{"type":"text","text":"38.08","color":"#ffffff","fontSize":15,"align":"center","baseline":"middle"},"encoding":{"x":{"datum":209.75},"y":{"datum":52.1,"axis":null}}},
{"mark":{"type":"point","shape":"M-1,-0.377L1,-0.377L1,0.377L-1,0.377Z","filled":true,"color":"#2962FF","opacity":1,"size":2809,"strokeWidth":0},"encoding":{"x":{"datum":209.75},"y":{"datum":30.1,"axis":null}}},
{"mark":{"type":"text","text":"29.76","color":"#ffffff","fontSize":15,"align":"center","baseline":"middle"},"encoding":{"x":{"datum":209.75},"y":{"datum":30.1,"axis":null}}},
{"mark":{"type":"point","shape":"M-1,-0.377L1,-0.377L1,0.377L-1,0.377Z","filled":true,"color":"#FFCDD2","opacity":1,"size":2809,"strokeWidth":0},"encoding":{"x":{"datum":209.75},"y":{"datum":-7.1,"axis":null}}},
{"mark":{"type":"text","text":"−8.31","color":"#131722","fontSize":15,"align":"center","baseline":"middle"},"encoding":{"x":{"datum":209.75},"y":{"datum":-7.1,"axis":null}}},
{"mark":{"type":"text","text":"MACD (12, 26, close)","fontSize":14,"color":"#131722","align":"left","baseline":"middle"},"encoding":{"x":{"datum":0.3},"y":{"datum":47.1,"axis":null}}},
{"mark":{"type":"text","text":"−8.31","fontSize":14,"color":"#f7b3bc","align":"left","baseline":"middle"},"encoding":{"x":{"datum":18.37},"y":{"datum":47.1,"axis":null}}},
{"mark":{"type":"text","text":"29.76","fontSize":14,"color":"#2962FF","align":"left","baseline":"middle"},"encoding":{"x":{"datum":24.09},"y":{"datum":47.1,"axis":null}}},
{"mark":{"type":"text","text":"38.08","fontSize":14,"color":"#FF6D00","align":"left","baseline":"middle"},"encoding":{"x":{"datum":29.66},"y":{"datum":47.1,"axis":null}}}
]}
]
}
